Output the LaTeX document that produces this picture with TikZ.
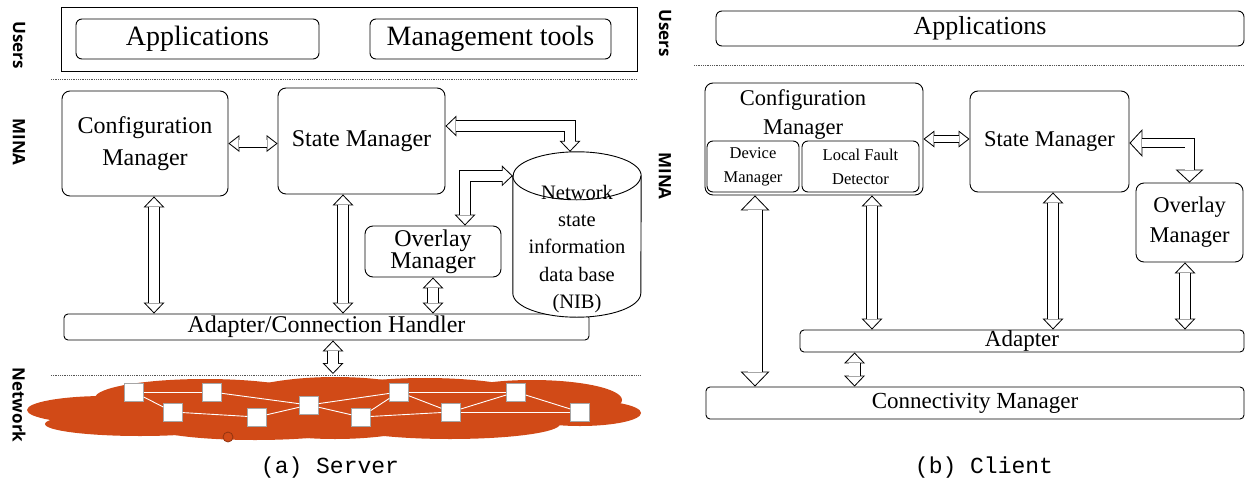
\documentclass[tikz,border=0pt]{standalone}
\usepackage{fontspec}
\setmainfont{Liberation Serif}
\newfontfamily\sidefont{Open Sans}
\newfontfamily\capfont{Liberation Mono}
\usetikzlibrary{arrows.meta,positioning,calc}
\definecolor{CloudRed}{HTML}{D14A17}
\definecolor{SepGray}{HTML}{555555}

% hollow two-headed block arrow: shaft, head width, head length (pt), path
\newcommand{\blockarrow}[4]{%
  \pgfmathsetmacro\bahw{#2/2}%
  \pgfmathsetmacro\bas{sqrt((#3)^2+\bahw^2)/\bahw}%
  \pgfmathsetmacro\bal{#3-0.8-\bas}%
  \pgfmathsetmacro\baw{#2*\bal/#3}%
  \pgfmathsetmacro\bain{#1-1.8}%
  \draw[line width=#1pt,{Triangle[length=#3pt,width=#2pt,line width=0pt]}-{Triangle[length=#3pt,width=#2pt,line width=0pt]}] #4;
  \draw[white,line width=\bain pt,shorten <=\bas pt,shorten >=\bas pt,{Triangle[length=\bal pt,width=\baw pt,line width=0pt]}-{Triangle[length=\bal pt,width=\baw pt,line width=0pt]}] #4;
}
\newcommand{\fatarrow}[1]{\blockarrow{12}{21}{11}{#1}}
\newcommand{\slimarrow}[1]{\blockarrow{8}{17}{11}{#1}}
\newcommand{\bigarrow}[1]{\blockarrow{15}{29}{15}{#1}}
\newcommand{\widearrow}[1]{\blockarrow{10}{28}{13}{#1}}

\begin{document}
\begin{tikzpicture}[x=1pt,y=1pt,
    box/.style={draw,line width=0.9pt,rounded corners=8pt,align=center,inner sep=0pt},
    sidelbl/.style={rotate=-90,font=\sidefont\bfseries\fontsize{17}{17}\selectfont},
    sep/.style={SepGray,densely dotted,line width=0.8pt},
    sw/.style={draw=black!35,fill=white,minimum width=19pt,minimum height=18pt,inner sep=0pt},
    link/.style={white,line width=0.9pt},
    captxt/.style={font=\capfont\fontsize{23}{23}\selectfont},
  ]
  \useasboundingbox (0,0) rectangle (1245,-482);

  % ===== (a) Server =====
  \node[sidelbl] (usrA) at (19,-45) {Users};
  \node[sidelbl] (minaA) at (19,-142) {MINA};
  \node[sidelbl] (netA) at (19,-405) {Network};

  % users layer
  \node[draw,line width=0.9pt,minimum width=576pt,minimum height=64pt] (frmA) at (349,-39) {};
  \node[box,rounded corners=6pt,minimum width=243pt,minimum height=40pt,font=\fontsize{28}{28}\selectfont] (appA) at (197.5,-39) {Applications};
  \node[box,rounded corners=6pt,minimum width=241pt,minimum height=40pt,font=\fontsize{28}{28}\selectfont] (mgtA) at (490.5,-39) {Management tools};
  \draw[sep] (51,-79) -- (637,-79);

  % MINA layer
  \node[box,minimum width=166pt,minimum height=105pt,font=\fontsize{24}{32}\selectfont] (cfgA) at (145,-143.5) {Configuration\\Manager};
  \node[box,minimum width=167pt,minimum height=106pt,font=\fontsize{24}{24}\selectfont] (stA) at (361.5,-141) {State Manager};
  \node[box,minimum width=136pt,minimum height=51pt,font=\fontsize{24}{22}\selectfont] (ovA) at (433,-251.5) {Overlay\\Manager};
  \node[box,rounded corners=4pt,minimum width=525pt,minimum height=26pt,font=\fontsize{24}{24}\selectfont] (adA) at (326.5,-327) {Adapter/Connection Handler};

  % NIB cylinder
  \node[minimum width=128pt,minimum height=165pt,inner sep=0pt] (nib) at (577,-234.5) {};
  \coordinate (nibW) at ([yshift=-24pt]nib.north west);
  \coordinate (nibE) at ([yshift=-24pt]nib.north east);
  \draw[line width=0.9pt,fill=white] (nibW) -- ([yshift=24pt]nib.south west)
    arc[start angle=180,end angle=360,x radius=64pt,y radius=24pt] -- (nibE)
    arc[start angle=0,end angle=180,x radius=64pt,y radius=24pt] -- cycle;
  \draw[line width=0.9pt] (nibW) arc[start angle=180,end angle=360,x radius=64pt,y radius=24pt];
  \node[align=center,font=\fontsize{20.5}{27.3}\selectfont] (nibtxt) at (577,-249) {Network\\state\\information\\data base\\(NIB)};

  % arrows
  \slimarrow{(cfgA.east) -- (stA.west |- cfgA.east)};
  \fatarrow{([yshift=15pt]stA.east) -| ([xshift=-7pt]nib.north)};
  \fatarrow{([xshift=32pt]ovA.north) |- (nibW)};
  \fatarrow{([xshift=9pt]cfgA.south) -- ([xshift=9pt]cfgA.south |- adA.north)};
  \fatarrow{([xshift=-18.5pt]stA.south) -- ([xshift=-18.5pt]stA.south |- adA.north)};
  \fatarrow{(ovA.south) -- (ovA.south |- adA.north)};
  \coordinate (netTop) at (333,-374);
  \fatarrow{(adA.south -| netTop) -- (netTop)};

  % network cloud
  \draw[sep] (51,-375) -- (641,-375);
  \fill[CloudRed] (105,-410) ellipse[x radius=78,y radius=14];
  \fill[CloudRed] (140,-424) ellipse[x radius=95,y radius=12];
  \fill[CloudRed] (205,-398) ellipse[x radius=110,y radius=19];
  \fill[CloudRed] (255,-426) ellipse[x radius=105,y radius=14];
  \fill[CloudRed] (335,-408) ellipse[x radius=115,y radius=31];
  \fill[CloudRed] (425,-398) ellipse[x radius=110,y radius=20];
  \fill[CloudRed] (450,-424) ellipse[x radius=110,y radius=15];
  \fill[CloudRed] (532,-400) ellipse[x radius=90,y radius=20];
  \fill[CloudRed] (580,-413) ellipse[x radius=61,y radius=13];
  \draw[CloudRed!70!black,fill=CloudRed,line width=0.8pt] (228,-437) circle[radius=5];

  \node[sw] (sw1) at (134,-392) {};
  \node[sw] (sw2) at (212,-392) {};
  \node[sw] (sw3) at (173,-412) {};
  \node[sw] (sw4) at (257,-417) {};
  \node[sw] (sw5) at (309,-405) {};
  \node[sw] (sw6) at (361,-417) {};
  \node[sw] (sw7) at (399,-392) {};
  \node[sw] (sw8) at (451,-412) {};
  \node[sw] (sw9) at (516,-392) {};
  \node[sw] (sw10) at (580,-412) {};
  \draw[link] (sw1) -- (sw2);
  \draw[link] (sw1) -- (sw3);
  \draw[link] (sw2) -- (sw5);
  \draw[link] (sw3) -- (sw4);
  \draw[link] (sw4) -- (sw5);
  \draw[link] (sw5) -- (sw7);
  \draw[link] (sw5) -- (sw6);
  \draw[link] (sw6) -- (sw7);
  \draw[link] (sw6) -- (sw8);
  \draw[link] (sw7) -- (sw8);
  \draw[link] (sw7) -- (sw9);
  \draw[link] (sw8) -- (sw9);
  \draw[link] (sw8) -- (sw10);
  \draw[link] (sw9) -- (sw10);

  \node[captxt] (capA) at (330,-468) {(a) Server};

  % ===== (b) Client =====
  \node[sidelbl] (usrB) at (665,-33) {Users};
  \node[sidelbl] (minaB) at (665,-176) {MINA};

  \node[box,rounded corners=6pt,minimum width=528pt,minimum height=35pt,font=\fontsize{26}{26}\selectfont] (appB) at (980,-28.5) {Applications};
  \draw[sep] (694,-65) -- (1245,-65);

  \node[box,minimum width=218pt,minimum height=112pt] (cfgB) at (814,-139) {};
  \node[align=center,font=\fontsize{22.5}{29}\selectfont] (cfgBt) at (803,-115) {Configuration\\Manager};
  \node[box,rounded corners=6pt,minimum width=92pt,minimum height=51pt,font=\fontsize{16.5}{24}\selectfont] (devB) at (753,-166.5) {Device\\Manager};
  \node[box,rounded corners=6pt,minimum width=117pt,minimum height=51pt,font=\fontsize{16.5}{24}\selectfont] (lfdB) at (860.5,-166.5) {Local Fault\\Detector};
  \node[box,minimum width=159pt,minimum height=101pt,font=\fontsize{22.5}{22.5}\selectfont] (stB) at (1049.5,-141.5) {State Manager};
  \node[box,minimum width=107pt,minimum height=79pt,font=\fontsize{22.5}{30}\selectfont] (ovB) at (1189.5,-222.5) {Overlay\\Manager};
  \node[box,rounded corners=4pt,minimum width=444pt,minimum height=22pt,font=\fontsize{23}{23}\selectfont] (adB) at (1022,-341) {Adapter};
  \node[box,rounded corners=4pt,minimum width=538pt,minimum height=32pt,font=\fontsize{23}{23}\selectfont] (conB) at (975,-403) {Connectivity Manager};

  % arrows
  \slimarrow{(cfgB.east) -- (stB.west |- cfgB.east)};
  \widearrow{([yshift=-1.5pt]stB.east) -| (ovB.north)};
  \bigarrow{([xshift=-59pt]cfgB.south) -- ([xshift=-59pt]cfgB.south |- conB.north)};
  \fatarrow{([xshift=58pt]cfgB.south) -- ([xshift=58pt]cfgB.south |- adB.north)};
  \fatarrow{([xshift=3.5pt]stB.south) -- ([xshift=3.5pt]stB.south |- adB.north)};
  \fatarrow{([xshift=-4.5pt]ovB.south) -- ([xshift=-4.5pt]ovB.south |- adB.north)};
  \fatarrow{([xshift=55pt]adB.south west) -- ([xshift=55pt]adB.south west |- conB.north)};

  \node[captxt] (capB) at (984,-468) {(b) Client};
\end{tikzpicture}
\end{document}
